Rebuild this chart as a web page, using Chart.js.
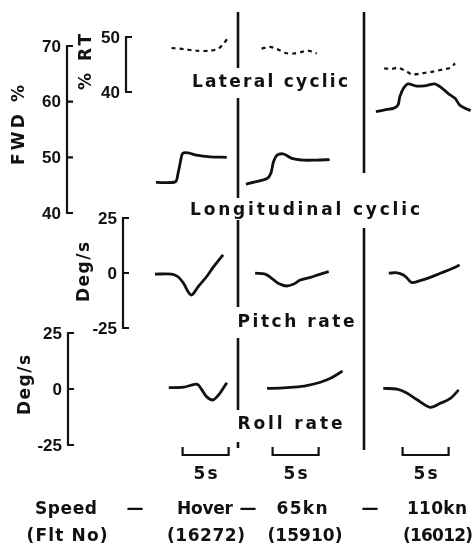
<!DOCTYPE html>
<html lang="en">
<head>
<meta charset="UTF-8">
<title>Cyclic and rate responses</title>
<script src="https://cdn.jsdelivr.net/npm/chart.js"></script>
<style>
  body { margin: 0; background: #fff; }
  .wrap { position: relative; width: 476px; height: 546px; }
</style>
</head>
<body>
<div class="wrap"><canvas id="traces"></canvas></div>

<script>
// --- data: time (s from start of each record) and values, one list per speed ---
const speeds = ['Hover', '65kn', '110kn'];
const fltNos = ['(16272)', '(15910)', '(16012)'];

// lateral cyclic, % RT (dashed)
const lateralT = [
  [1.8, 3.1, 4.5, 6.0, 6.9, 7.5, 8.0],
  [1.8, 2.7, 3.5, 4.4, 5.3, 6.2, 6.9, 7.8],
  [1.0, 1.8, 2.5, 3.5, 4.0, 5.1, 6.3, 7.4, 8.2, 8.7]
];
const lateralV = [
  [48.0, 47.8, 47.5, 47.5, 47.9, 48.9, 50.0],
  [47.9, 48.2, 47.8, 47.1, 47.0, 47.3, 47.5, 47.0],
  [44.3, 44.2, 44.4, 43.7, 43.2, 43.4, 43.7, 44.1, 44.4, 45.2]
];

// longitudinal cyclic, FWD %
const longT = [
  [0.1, 2.2, 2.5, 2.8, 3.0, 3.6, 4.5, 6.0, 7.8],
  [0.1, 1.1, 2.4, 2.8, 3.1, 3.5, 4.2, 5.1, 6.3, 7.8, 9.2],
  [0.1, 1.3, 2.0, 2.5, 2.7, 3.1, 3.6, 4.5, 5.6, 6.5, 7.3, 8.0, 8.7, 9.2, 9.8, 10.4]
];
const longV = [
  [45.5, 45.6, 47.1, 49.5, 50.7, 50.8, 50.4, 50.1, 50.0],
  [45.2, 45.6, 46.2, 47.1, 49.2, 50.4, 50.6, 49.8, 49.5, 49.5, 49.6],
  [58.2, 58.6, 58.8, 59.4, 60.9, 62.4, 63.2, 62.8, 62.9, 63.2, 62.4, 61.4, 60.6, 59.4, 58.8, 58.4]
];

// pitch rate, deg/s
const pitchT = [
  [0.0, 1.8, 2.5, 3.1, 3.6, 3.9, 4.2, 4.7, 5.6, 6.5, 7.4],
  [1.1, 2.2, 2.9, 3.6, 4.5, 5.3, 6.0, 7.1, 8.2, 9.1],
  [1.5, 2.4, 3.1, 3.5, 4.0, 4.9, 6.0, 7.1, 8.2, 9.2]
];
const pitchV = [
  [-0.5, -0.5, -1.7, -4.7, -8.5, -10.0, -9.2, -6.2, -1.7, 3.6, 8.2],
  [-0.1, -0.5, -2.4, -4.7, -5.9, -5.0, -3.2, -2.0, -0.5, 0.6],
  [-0.1, 0.1, -0.9, -2.4, -4.4, -3.5, -2.0, -0.1, 1.7, 3.6]
];

// roll rate, deg/s
const rollT = [
  [1.5, 3.1, 4.3, 4.7, 5.1, 5.6, 6.3, 6.9, 7.3, 7.8],
  [2.4, 3.8, 5.3, 6.7, 8.2, 9.4, 10.6],
  [0.9, 2.4, 3.5, 4.5, 6.0, 7.1, 8.2, 9.1]
];
const rollV = [
  [0.6, 0.8, 2.1, 1.8, -0.4, -3.4, -4.9, -2.7, -0.4, 2.8],
  [0.3, 0.4, 0.8, 1.5, 3.0, 5.0, 8.0],
  [0.3, -0.1, -1.9, -4.6, -8.2, -6.4, -4.2, -0.4]
];

const fwdTicks = [40, 50, 60, 70];
const rtTicks = [40, 50];
const rateTicks = [-25, 0, 25];
const scaleBar = [3, 8];   // 5 s marker, within each record

// --- layout ---
const W = 476, H = 546;
const PX_PER_S = 9.2;
const colStart = [155, 245, 375].map(p => p / PX_PER_S);   // record origin, s
const INK = '#111';
const WORD = 'bold 17px "DejaVu Sans"';
const NUM = 'bold 17px "Liberation Sans"';

// value range lo..hi sitting between pixel rows yHi (for hi) and yLo (for lo)
function band(lo, hi, yHi, yLo) {
  const k = (yLo - yHi) / (hi - lo);
  return { min: lo - (H - yLo) / k, max: hi + yHi / k };
}

function series(ts, vs, yAxisID, dashed) {
  return ts.map((t, c) => ({
    data: t.map((s, i) => ({ x: colStart[c] + s, y: vs[c][i] })),
    yAxisID,
    borderColor: INK,
    borderWidth: dashed ? 2.2 : 2.8,
    borderDash: dashed ? [4, 4] : [],
    pointRadius: 0,
    tension: 0.3,
    fill: false,
    clip: false
  }));
}

function fitted(ctx, text, cx, cy, width) {
  ctx.letterSpacing = '0px';
  const w0 = ctx.measureText(text).width;
  const n = [...text].length;
  const sp = n > 1 ? (width - w0) / (n - 1) : 0;
  ctx.letterSpacing = sp + 'px';
  ctx.textAlign = 'left';
  ctx.fillText(text, cx - width / 2, cy);
  ctx.letterSpacing = '0px';
}

// axis brackets, labels, separators, time markers
const frame = {
  id: 'frame',
  afterDraw(chart) {
    const { ctx, scales } = chart;
    ctx.save();
    ctx.fillStyle = INK;
    ctx.strokeStyle = INK;
    ctx.textBaseline = 'middle';
    ctx.lineCap = 'butt';

    // y axes: vertical line, ticks pointing inward, labels on the left
    const axes = [
      { id: 'yFwd', x: 67, ticks: fwdTicks },
      { id: 'yRt', x: 126, ticks: rtTicks },
      { id: 'yPitch', x: 123, ticks: rateTicks },
      { id: 'yRoll', x: 68, ticks: rateTicks }
    ];
    ctx.lineWidth = 2.2;
    ctx.font = NUM;
    axes.forEach(a => {
      const s = scales[a.id];
      const top = s.getPixelForValue(Math.max(...a.ticks));
      const bot = s.getPixelForValue(Math.min(...a.ticks));
      ctx.beginPath();
      ctx.moveTo(a.x, top);
      ctx.lineTo(a.x, bot);
      a.ticks.forEach(v => {
        const y = s.getPixelForValue(v);
        ctx.moveTo(a.x - 1, y);
        ctx.lineTo(a.x + 6, y);
      });
      ctx.stroke();
      ctx.textAlign = 'right';
      a.ticks.forEach(v => {
        ctx.fillText(v < 0 ? '-' + Math.abs(v) : String(v), a.x - 6, s.getPixelForValue(v) + 1);
      });
    });

    // rotated axis titles
    ctx.font = WORD;
    [['FWD %', 20, 125, 80], ['% RT', 87, 62, 56], ['Deg/s', 85, 272, 60], ['Deg/s', 26, 385, 60]]
      .forEach(([t, x, y, w]) => {
        ctx.save();
        ctx.translate(x, y);
        ctx.rotate(-Math.PI / 2);
        fitted(ctx, t, 0, 0, w);
        ctx.restore();
      });

    // panel titles
    fitted(ctx, 'Lateral cyclic', 270, 83, 156);
    fitted(ctx, 'Longitudinal cyclic', 305, 211, 230);
    fitted(ctx, 'Pitch rate', 296, 323, 117);
    fitted(ctx, 'Roll rate', 290, 425, 105);

    // column separators, broken around the panel titles
    ctx.lineWidth = 2.6;
    const seps = [
      { x: 238, runs: [[12, 68], [98, 198], [220, 307], [338, 410], [442, 448]] },
      { x: 364, runs: [[12, 173], [228, 450]] }
    ];
    ctx.beginPath();
    seps.forEach(s => s.runs.forEach(([a, b]) => { ctx.moveTo(s.x, a); ctx.lineTo(s.x, b); }));
    ctx.stroke();

    // 5 s markers
    const x = scales.x;
    ctx.lineWidth = 2.2;
    colStart.forEach(c => {
      const a = x.getPixelForValue(c + scaleBar[0]);
      const b = x.getPixelForValue(c + scaleBar[1]);
      ctx.beginPath();
      ctx.moveTo(a, 447);
      ctx.lineTo(a, 455);
      ctx.lineTo(b, 455);
      ctx.lineTo(b, 447);
      ctx.stroke();
      fitted(ctx, (scaleBar[1] - scaleBar[0]) + 's', (a + b) / 2, 475, 24);
    });

    // speed / flight number rows
    fitted(ctx, 'Speed', 66, 510, 62);
    fitted(ctx, '(Flt No)', 67, 537, 81);
    ctx.textAlign = 'center';
    ctx.fillText('—', 135, 510);
    ctx.fillText('—', 248, 510);
    ctx.fillText('—', 370, 510);
    const wordSpots = [[205, 56], [302, 51], [437, 60]];
    const noSpots = [[206, 78], [305, 75], [438, 70]];
    speeds.forEach((s, i) => fitted(ctx, s, wordSpots[i][0], 510, wordSpots[i][1]));
    fltNos.forEach((s, i) => fitted(ctx, s, noSpots[i][0], 537, noSpots[i][1]));
    ctx.restore();
  }
};

const hidden = { display: false };
new Chart(document.getElementById('traces'), {
  type: 'line',
  data: {
    datasets: [
      ...series(lateralT, lateralV, 'yRt', true),
      ...series(longT, longV, 'yFwd', false),
      ...series(pitchT, pitchV, 'yPitch', false),
      ...series(rollT, rollV, 'yRoll', false)
    ]
  },
  options: {
    responsive: true,
    maintainAspectRatio: false,
    animation: false,
    layout: { padding: 0 },
    plugins: { legend: hidden, tooltip: { enabled: false } },
    scales: {
      x: { type: 'linear', min: 0, max: W / PX_PER_S, display: false },
      yFwd: { ...band(40, 70, 46, 213), display: false },
      yRt: { ...band(40, 50, 37, 92), display: false },
      yPitch: { ...band(-25, 25, 218, 328), display: false },
      yRoll: { ...band(-25, 25, 333, 445), display: false }
    }
  },
  plugins: [frame]
});
</script>
</body>
</html>
